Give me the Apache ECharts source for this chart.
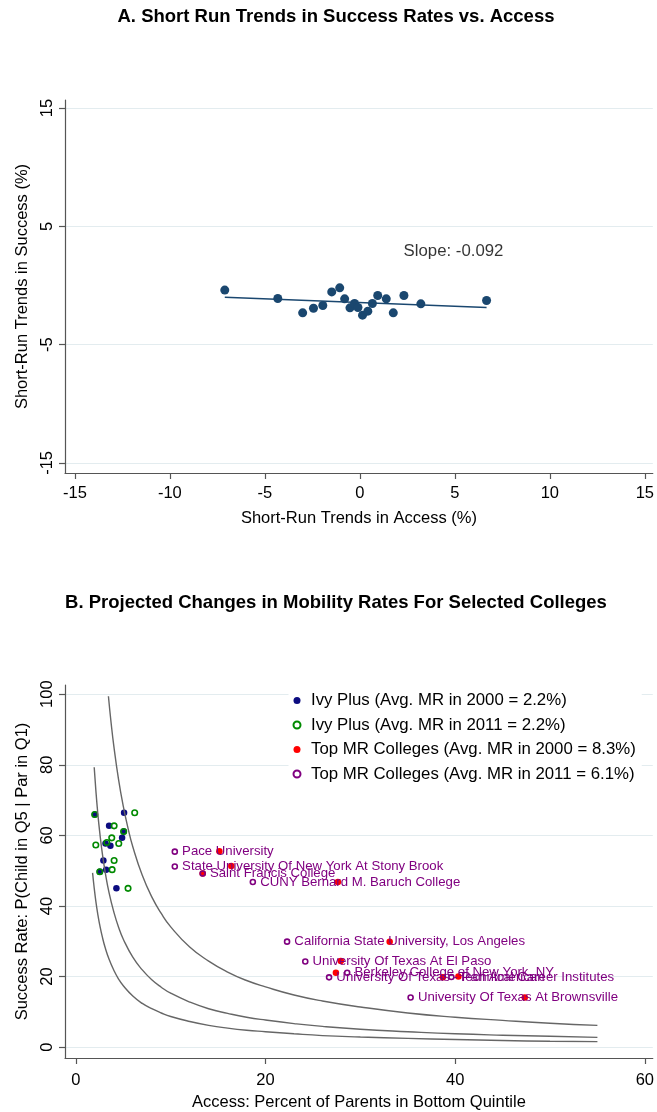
<!DOCTYPE html>
<html><head><meta charset="utf-8">
<script src="https://cdn.jsdelivr.net/npm/echarts@6/dist/echarts.min.js"></script>
<style>html,body{margin:0;padding:0;background:#fff}#c{width:657px;height:1112px}</style>
</head><body><div id="c"></div>
<script>
// ---------- Panel A data ----------
const titleA = 'A. Short Run Trends in Success Rates vs. Access';
const xNameA = 'Short-Run Trends in Access (%)';
const yNameA = 'Short-Run Trends in Success (%)';
const accessTrend  = [-7.11, -4.32, -3.01, -2.44, -1.95, -1.48, -1.06, -0.80, -0.52, -0.28, -0.10, 0.14, 0.42, 0.66, 0.94, 1.39, 1.76, 2.32, 3.21, 6.67];
const successTrend = [-0.39, -1.10, -2.31, -1.92, -1.69, -0.54, -0.20, -1.13, -1.89, -1.52, -1.86, -2.51, -2.17, -1.52, -0.85, -1.13, -2.31, -0.85, -1.55, -1.27];
const fitX = [-7.11, 6.67];
const fitY = [-1.0, -1.86];
const slopeLabel = 'Slope: -0.092';
const slopePos = [2.3, 2.87];
const xTicksA = [-15, -10, -5, 0, 5, 10, 15];
const yTicksA = [-15, -5, 5, 15];

// ---------- Panel B data ----------
const titleB = 'B. Projected Changes in Mobility Rates For Selected Colleges';
const xNameB = 'Access: Percent of Parents in Bottom Quintile';
const yNameB = 'Success Rate: P(Child in Q5 | Par in Q1)';
const legendNames = [
  'Ivy Plus (Avg. MR in 2000 = 2.2%)',
  'Ivy Plus (Avg. MR in 2011 = 2.2%)',
  'Top MR Colleges (Avg. MR in 2000 = 8.3%)',
  'Top MR Colleges (Avg. MR in 2011 = 6.1%)'
];
const ivy2000Access  = [1.99, 5.08, 3.50, 5.04, 4.87, 3.12, 3.64, 2.90, 3.19, 2.52, 4.27];
const ivy2000Success = [65.9, 66.4, 62.7, 61.1, 59.3, 57.7, 57.1, 52.9, 50.3, 49.7, 45.0];
const ivy2011Access  = [1.99, 6.20, 4.03, 5.04, 3.78, 2.10, 3.26, 4.52, 4.03, 3.82, 2.52, 5.50];
const ivy2011Success = [65.9, 66.4, 62.7, 61.1, 59.3, 57.3, 58.0, 57.7, 52.9, 50.3, 49.7, 45.0];
const topNames = [
  'Pace University',
  'State University Of New York At Stony Brook',
  'Saint Francis College',
  'CUNY Bernard M. Baruch College',
  'California State University, Los Angeles',
  'University Of Texas At El Paso',
  'Berkeley College of New York, NY',
  'University Of Texas - Pan American',
  'Technical Career Institutes',
  'University Of Texas At Brownsville'
];
const top2000Access  = [15.13, 16.39, 13.37, 27.63, 33.09, 27.94, 27.42, 38.70, 40.34, 47.34];
const top2000Success = [55.5, 51.3, 49.2, 46.8, 29.9, 24.4, 21.1, 19.8, 20.0, 14.1];
const top2011Access  = [10.43, 10.43, 13.37, 18.66, 22.27, 24.19, 28.61, 26.70, 39.60, 35.30];
const top2011Success = [55.4, 51.2, 49.2, 46.8, 29.9, 24.3, 21.1, 19.8, 19.9, 14.1];
// iso-mobility-rate curves, points
const curveHighX = [3.43, 3.7, 4, 4.5, 5, 5.5, 6, 7, 8, 9, 10, 12, 14, 16, 18, 20, 23, 26, 30, 35, 40, 45, 50, 55];
const curveHighY = [99.4, 92.2, 85.3, 75.8, 68.2, 62.0, 56.8, 48.7, 42.6, 37.9, 34.1, 28.4, 24.4, 21.3, 18.9, 17.1, 14.8, 13.1, 11.4, 9.7, 8.5, 7.6, 6.8, 6.2];
const curveMidX = [1.93, 2.1, 2.3, 2.5, 2.8, 3.1, 3.5, 4, 4.5, 5, 6, 7, 8, 9, 10, 12, 14, 16, 18, 20, 23, 26, 30, 35, 40, 45, 50, 55];
const curveMidY = [79.3, 72.9, 66.5, 61.2, 54.6, 49.4, 43.7, 38.3, 34.0, 30.6, 25.5, 21.9, 19.1, 17.0, 15.3, 12.8, 10.9, 9.6, 8.5, 7.7, 6.7, 5.9, 5.1, 4.4, 3.8, 3.4, 3.1, 2.8];
const curveLowX = [1.76, 1.9, 2.1, 2.3, 2.5, 2.8, 3.1, 3.5, 4, 4.5, 5, 6, 7, 8, 9, 10, 12, 14, 16, 18, 20, 23, 26, 30, 35, 40, 45, 50, 55];
const curveLowY = [49.4, 45.8, 41.4, 37.8, 34.8, 31.1, 28.1, 24.9, 21.8, 19.3, 17.4, 14.5, 12.4, 10.9, 9.7, 8.7, 7.3, 6.2, 5.4, 4.8, 4.4, 3.8, 3.3, 2.9, 2.5, 2.2, 1.9, 1.7, 1.6];
const xTicksB = [0, 20, 40, 60];
const yTicksB = [0, 20, 40, 60, 80, 100];

// ---------- build ----------
const FONT = '"Liberation Sans", Arial, Helvetica, sans-serif';
const AXIS_COL = '#555';
const GRID_COL = '#e3ecef';
const zip = (a, b) => a.map((v, i) => [v, b[i]]);

function xAxisDef(grid, min, max, ticks, name, margin, nameGap) {
  return {
    gridIndex: grid, type: 'value', min: min, max: max,
    name: name, nameLocation: 'middle', nameGap: nameGap,
    nameTextStyle: {fontSize: 16.5, color: '#000', fontFamily: FONT},
    axisLine: {show: true, onZero: false, lineStyle: {color: AXIS_COL, width: 1.2}},
    axisTick: {show: true, customValues: ticks, length: 6, lineStyle: {color: AXIS_COL, width: 1.2}},
    axisLabel: {show: true, customValues: ticks, fontSize: 16.5, color: '#000', margin: margin, fontFamily: FONT},
    splitLine: {show: false}
  };
}
function yAxisDef(grid, min, max, ticks, name, nameGap) {
  return {
    gridIndex: grid, type: 'value', min: min, max: max,
    name: name, nameLocation: 'middle', nameGap: nameGap, nameRotate: 90,
    nameTextStyle: {fontSize: 16.5, color: '#000', fontFamily: FONT},
    axisLine: {show: true, onZero: false, lineStyle: {color: AXIS_COL, width: 1.2}},
    axisTick: {show: true, customValues: ticks, length: 6, lineStyle: {color: AXIS_COL, width: 1.2}},
    axisLabel: {show: true, customValues: ticks, rotate: 90, fontSize: 16.5, color: '#000', margin: 9, fontFamily: FONT},
    splitLine: {show: true, lineStyle: {color: GRID_COL, width: 1.2}}
  };
}

const chart = echarts.init(document.getElementById('c'), null, {renderer: 'canvas'});
const option = {
  animation: false,
  backgroundColor: '#fff',
  textStyle: {fontFamily: FONT},
  graphic: [
    {type: 'text', x: 336, y: 17, style: {text: titleA, fill: '#000', font: 'bold 18.5px ' + FONT, textAlign: 'center', textVerticalAlign: 'middle'}},
    {type: 'text', x: 336, y: 603, style: {text: titleB, fill: '#000', font: 'bold 18.5px ' + FONT, textAlign: 'center', textVerticalAlign: 'middle'}}
  ],
  grid: [
    {left: 65, right: 0, top: 100, height: 373},
    {left: 65, right: 0, top: 685, height: 374}
  ],
  xAxis: [
    xAxisDef(0, -15.52, 15.42, xTicksA, xNameA, 12, 37),
    xAxisDef(1, -1.15, 60.84, xTicksB, xNameB, 14, 36)
  ],
  yAxis: [
    yAxisDef(0, -15.85, 15.68, yTicksA, yNameA, 33),
    yAxisDef(1, -3.05, 102.6, yTicksB, yNameB, 33)
  ],
  legend: {
    data: legendNames, orient: 'vertical', left: 288.5, top: 690,
    itemWidth: 18, itemHeight: 7, itemGap: 7.5, padding: [2, 6, 6, 4],
    backgroundColor: '#fff', selectedMode: false,
    textStyle: {fontSize: 16.8, color: '#000', lineHeight: 17, fontFamily: FONT}
  },
  series: [
    // Panel A
    {type: 'line', xAxisIndex: 0, yAxisIndex: 0, data: zip(fitX, fitY), showSymbol: false, silent: true,
     lineStyle: {color: '#1a476f', width: 1.6}},
    {type: 'scatter', xAxisIndex: 0, yAxisIndex: 0, data: zip(accessTrend, successTrend), symbol: 'circle', symbolSize: 9, silent: true,
     itemStyle: {color: '#1a476f', opacity: 1}},
    {type: 'scatter', xAxisIndex: 0, yAxisIndex: 0, data: [slopePos], symbolSize: 0, silent: true,
     label: {show: true, formatter: slopeLabel, position: 'right', distance: 0, fontSize: 16.8, color: '#000', fontFamily: FONT}},
    // Panel B curves
    {type: 'line', xAxisIndex: 1, yAxisIndex: 1, data: zip(curveHighX, curveHighY), showSymbol: false, smooth: true, silent: true, lineStyle: {color: '#666', width: 1.4}},
    {type: 'line', xAxisIndex: 1, yAxisIndex: 1, data: zip(curveMidX, curveMidY), showSymbol: false, smooth: true, silent: true, lineStyle: {color: '#666', width: 1.4}},
    {type: 'line', xAxisIndex: 1, yAxisIndex: 1, data: zip(curveLowX, curveLowY), showSymbol: false, smooth: true, silent: true, lineStyle: {color: '#666', width: 1.4}},
    // Panel B points
    {name: legendNames[0], type: 'scatter', xAxisIndex: 1, yAxisIndex: 1, data: zip(ivy2000Access, ivy2000Success),
     symbol: 'circle', symbolSize: 6.5, silent: true, itemStyle: {color: '#0c0c80', opacity: 1}},
    {name: legendNames[1], type: 'scatter', xAxisIndex: 1, yAxisIndex: 1, data: zip(ivy2011Access, ivy2011Success),
     symbol: 'circle', symbolSize: 5.5, silent: true, itemStyle: {color: 'rgba(0,0,0,0)', borderColor: '#008a00', borderWidth: 1.6, opacity: 1}},
    {name: legendNames[2], type: 'scatter', xAxisIndex: 1, yAxisIndex: 1, data: zip(top2000Access, top2000Success),
     symbol: 'circle', symbolSize: 6.5, silent: true, itemStyle: {color: '#ff0000', opacity: 1}},
    {name: legendNames[3], type: 'scatter', xAxisIndex: 1, yAxisIndex: 1,
     data: top2011Access.map((x, i) => ({value: [x, top2011Success[i]], name: topNames[i]})),
     symbol: 'circle', symbolSize: 5, silent: true, itemStyle: {color: 'rgba(0,0,0,0)', borderColor: '#800080', borderWidth: 1.6, opacity: 1},
     label: {show: true, formatter: '{b}', position: 'right', distance: 4, fontSize: 13.2, color: '#800080', fontFamily: FONT}}
  ]
};
chart.setOption(option);
</script>
</body></html>
